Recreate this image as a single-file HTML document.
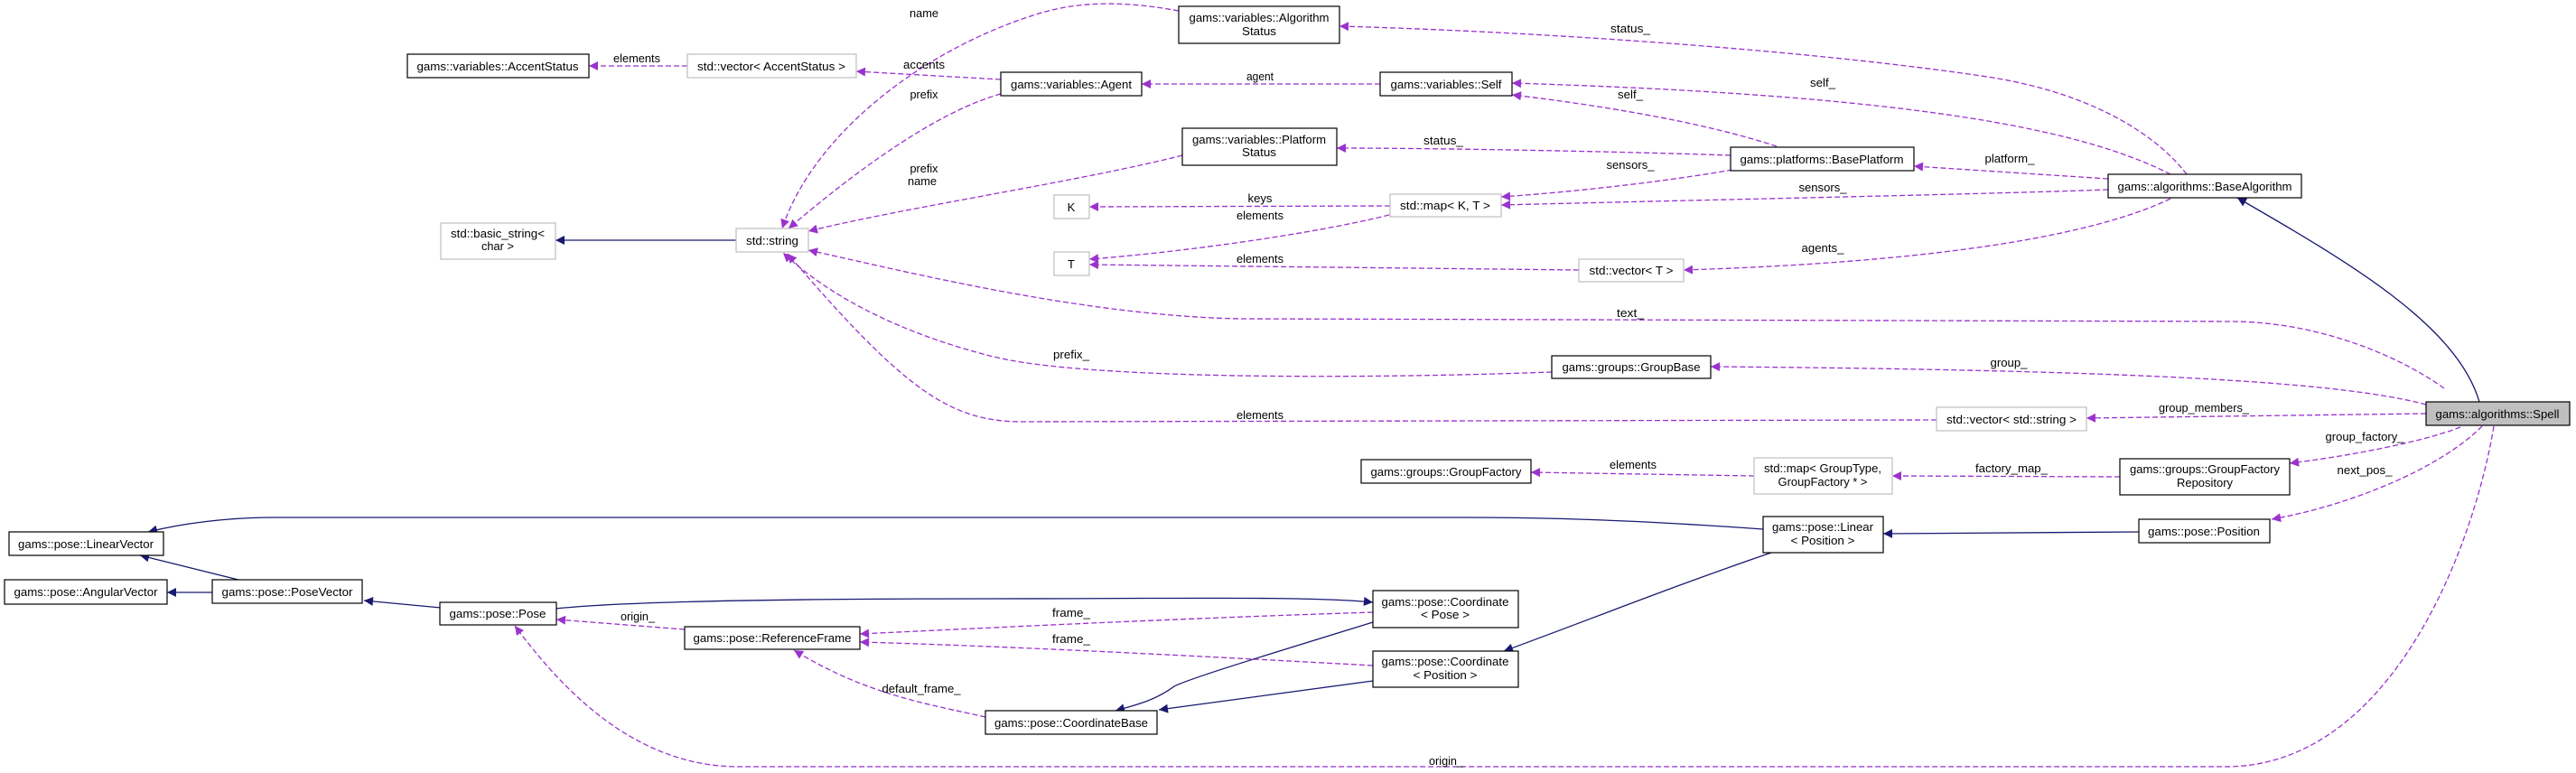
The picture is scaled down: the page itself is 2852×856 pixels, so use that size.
<!DOCTYPE html>
<html><head><meta charset="utf-8"><style>
html,body{margin:0;padding:0;background:#fff;}
svg{display:block;}
text{font-family:"Liberation Sans",Arial,sans-serif;font-size:13px;fill:#000;}
.n{fill:#fff;stroke:#000;stroke-width:1.2;}
.g{fill:#fff;stroke:#bfbfbf;stroke-width:1.2;}
.p{fill:none;stroke:#9a32cd;stroke-width:1.3;stroke-dasharray:6,3;marker-end:url(#ap);}
.b{fill:none;stroke:#191970;stroke-width:1.3;marker-end:url(#ab);}
</style></head><body>
<svg width="2852" height="856" viewBox="0 0 2852 856" xmlns="http://www.w3.org/2000/svg">
<defs>
<marker id="ap" viewBox="0 0 10 10" refX="10" refY="5" markerUnits="userSpaceOnUse" markerWidth="12" markerHeight="10" orient="auto"><path d="M0,0 L10,5 L0,10 z" fill="#9a32cd"/></marker>
<marker id="ab" viewBox="0 0 10 10" refX="10" refY="5" markerUnits="userSpaceOnUse" markerWidth="12" markerHeight="10" orient="auto"><path d="M0,0 L10,5 L0,10 z" fill="#191970"/></marker>
</defs>

<!-- edges -->
<path class="p" d="M761,73 L652,73"/>
<path class="p" d="M1305,12 C1250,2 1200,0 1150,15 C1020,55 900,150 866,253"/>
<path class="p" d="M1108,88 L948,79"/>
<path class="p" d="M1108,104 C1050,120 970,170 873,253"/>
<path class="p" d="M1309,172 C1200,200 1000,230 895,256"/>
<path class="p" d="M2706,430 C2650,390 2560,356 2470,356 L1374,353 C1200,350 1000,300 895,277"/>
<path class="p" d="M1718,412 C1500,420 1200,420 1100,395 C1000,370 920,330 867,280"/>
<path class="p" d="M2144,465 L1132,467 C1050,467 1000,430 872,281"/>
<path class="p" d="M1528,93 L1264,93"/>
<path class="p" d="M2421,193 C2380,140 2300,100 2200,85 C2000,55 1700,35 1483,29"/>
<path class="p" d="M2403,193 C2300,140 2100,105 1674,92"/>
<path class="p" d="M1967,162 C1900,140 1800,120 1674,105"/>
<path class="p" d="M1916,172 C1800,168 1600,164 1480,164"/>
<path class="p" d="M2334,198 L2119,184"/>
<path class="p" d="M1918,188 C1850,200 1750,212 1662,218"/>
<path class="p" d="M2334,210 C2200,215 1900,221 1662,227"/>
<path class="p" d="M1539,228 L1206,229"/>
<path class="p" d="M1538,238 C1450,260 1300,280 1206,287"/>
<path class="p" d="M1748,299 L1206,293"/>
<path class="p" d="M2403,220 C2320,260 2150,290 1864,299"/>
<path class="b" d="M2745,445 C2720,360 2600,290 2477,219"/>
<path class="p" d="M2686,448 C2600,425 2400,410 1894,406"/>
<path class="p" d="M2686,458 L2310,463"/>
<path class="p" d="M2724,473 C2680,490 2600,505 2535,513"/>
<path class="p" d="M2748,472 C2700,520 2600,560 2515,575"/>
<path class="p" d="M2761,472 C2740,600 2650,849 2464,849 L818,849 C700,849 620,760 570,693"/>
<path class="p" d="M2347,528 L2095,527"/>
<path class="p" d="M1942,527 L1695,523"/>
<path class="b" d="M2368,589 L2085,591"/>
<path class="b" d="M1952,586 C1800,575 1700,573 1617,573 L303,573 C250,573 200,580 164,589"/>
<path class="b" d="M1961,612 C1850,650 1750,690 1665,721"/>
<path class="b" d="M264,642 L155,615"/>
<path class="b" d="M235,656 L185,656"/>
<path class="b" d="M488,673 L403,665"/>
<path class="b" d="M615,674 C700,665 900,663 1100,663 C1300,663 1450,660 1520,667"/>
<path class="p" d="M1520,678 C1300,685 1100,695 952,702"/>
<path class="p" d="M1520,737 C1300,725 1100,715 952,711"/>
<path class="p" d="M758,697 L616,686"/>
<path class="p" d="M1091,794 C1030,780 960,770 879,720"/>
<path class="b" d="M1520,689 C1420,720 1320,750 1300,760 C1280,775 1260,780 1235,787"/>
<path class="b" d="M1520,754 L1283,786"/>
<path class="b" d="M815,266 L615,266"/>

<!-- edge labels -->
<g text-anchor="middle">
<text x="705" y="69" textLength="52" lengthAdjust="spacingAndGlyphs">elements</text>
<text x="1023" y="19" textLength="32" lengthAdjust="spacingAndGlyphs">name</text>
<text x="1023" y="76" textLength="46" lengthAdjust="spacingAndGlyphs">accents</text>
<text x="1023" y="109" textLength="31" lengthAdjust="spacingAndGlyphs">prefix</text>
<text x="1023" y="191" textLength="31" lengthAdjust="spacingAndGlyphs">prefix</text>
<text x="1021" y="205" textLength="32" lengthAdjust="spacingAndGlyphs">name</text>
<text x="1395" y="89" textLength="30" lengthAdjust="spacingAndGlyphs">agent</text>
<text x="1805" y="36" textLength="44" lengthAdjust="spacingAndGlyphs">status_</text>
<text x="2018" y="96" textLength="28" lengthAdjust="spacingAndGlyphs">self_</text>
<text x="1805" y="109" textLength="28" lengthAdjust="spacingAndGlyphs">self_</text>
<text x="1598" y="160" textLength="44" lengthAdjust="spacingAndGlyphs">status_</text>
<text x="2225" y="180" textLength="55" lengthAdjust="spacingAndGlyphs">platform_</text>
<text x="1805" y="187" textLength="53" lengthAdjust="spacingAndGlyphs">sensors_</text>
<text x="2018" y="212" textLength="53" lengthAdjust="spacingAndGlyphs">sensors_</text>
<text x="1395" y="224" textLength="27" lengthAdjust="spacingAndGlyphs">keys</text>
<text x="1395" y="243" textLength="52" lengthAdjust="spacingAndGlyphs">elements</text>
<text x="1395" y="291" textLength="52" lengthAdjust="spacingAndGlyphs">elements</text>
<text x="2018" y="279" textLength="47" lengthAdjust="spacingAndGlyphs">agents_</text>
<text x="1805" y="351" textLength="30" lengthAdjust="spacingAndGlyphs">text_</text>
<text x="1186" y="397" textLength="40" lengthAdjust="spacingAndGlyphs">prefix_</text>
<text x="2224" y="406" textLength="41" lengthAdjust="spacingAndGlyphs">group_</text>
<text x="1395" y="464" textLength="52" lengthAdjust="spacingAndGlyphs">elements</text>
<text x="2440" y="456" textLength="100" lengthAdjust="spacingAndGlyphs">group_members_</text>
<text x="2618" y="488" textLength="87" lengthAdjust="spacingAndGlyphs">group_factory_</text>
<text x="2618" y="525" textLength="61" lengthAdjust="spacingAndGlyphs">next_pos_</text>
<text x="2227" y="523" textLength="80" lengthAdjust="spacingAndGlyphs">factory_map_</text>
<text x="1808" y="519" textLength="52" lengthAdjust="spacingAndGlyphs">elements</text>
<text x="1186" y="683" textLength="42" lengthAdjust="spacingAndGlyphs">frame_</text>
<text x="1186" y="712" textLength="42" lengthAdjust="spacingAndGlyphs">frame_</text>
<text x="706" y="687" textLength="38" lengthAdjust="spacingAndGlyphs">origin_</text>
<text x="1020" y="767" textLength="87" lengthAdjust="spacingAndGlyphs">default_frame_</text>
<text x="1601" y="847" textLength="38" lengthAdjust="spacingAndGlyphs">origin_</text>
</g>

<!-- nodes -->
<g text-anchor="middle">
<rect class="n" x="451" y="60" width="201" height="26"/><text x="551" y="78" textLength="179" lengthAdjust="spacingAndGlyphs">gams::variables::AccentStatus</text>
<rect class="g" x="761" y="60" width="187" height="26"/><text x="854" y="78" textLength="164" lengthAdjust="spacingAndGlyphs">std::vector&lt; AccentStatus &gt;</text>
<rect class="g" x="488" y="247" width="127" height="40"/><text x="551" y="263" textLength="104" lengthAdjust="spacingAndGlyphs">std::basic_string&lt;</text><text x="551" y="277" textLength="36" lengthAdjust="spacingAndGlyphs">char &gt;</text>
<rect class="g" x="815" y="253" width="80" height="26"/><text x="855" y="271" textLength="58" lengthAdjust="spacingAndGlyphs">std::string</text>
<rect class="n" x="1305" y="7" width="178" height="41"/><text x="1394" y="24" textLength="155" lengthAdjust="spacingAndGlyphs">gams::variables::Algorithm</text><text x="1394" y="39" textLength="38" lengthAdjust="spacingAndGlyphs">Status</text>
<rect class="n" x="1108" y="80" width="156" height="26"/><text x="1186" y="98" textLength="134" lengthAdjust="spacingAndGlyphs">gams::variables::Agent</text>
<rect class="n" x="1528" y="80" width="146" height="26"/><text x="1601" y="98" textLength="123" lengthAdjust="spacingAndGlyphs">gams::variables::Self</text>
<rect class="n" x="1309" y="142" width="171" height="41"/><text x="1394" y="159" textLength="148" lengthAdjust="spacingAndGlyphs">gams::variables::Platform</text><text x="1394" y="173" textLength="38" lengthAdjust="spacingAndGlyphs">Status</text>
<rect class="g" x="1167" y="216" width="39" height="26"/><text x="1186" y="234">K</text>
<rect class="g" x="1539" y="215" width="123" height="25"/><text x="1600" y="232" textLength="100" lengthAdjust="spacingAndGlyphs">std::map&lt; K, T &gt;</text>
<rect class="g" x="1167" y="279" width="39" height="26"/><text x="1186" y="297">T</text>
<rect class="g" x="1748" y="287" width="116" height="25"/><text x="1806" y="304" textLength="93" lengthAdjust="spacingAndGlyphs">std::vector&lt; T &gt;</text>
<rect class="n" x="1718" y="394" width="176" height="25"/><text x="1806" y="411" textLength="153" lengthAdjust="spacingAndGlyphs">gams::groups::GroupBase</text>
<rect class="n" x="1916" y="163" width="203" height="26"/><text x="2017" y="181" textLength="181" lengthAdjust="spacingAndGlyphs">gams::platforms::BasePlatform</text>
<rect class="n" x="2334" y="193" width="214" height="26"/><text x="2441" y="211" textLength="193" lengthAdjust="spacingAndGlyphs">gams::algorithms::BaseAlgorithm</text>
<rect class="n" x="10" y="589" width="171" height="26"/><text x="95" y="607" textLength="150" lengthAdjust="spacingAndGlyphs">gams::pose::LinearVector</text>
<rect class="n" x="5" y="642" width="180" height="27"/><text x="95" y="660" textLength="159" lengthAdjust="spacingAndGlyphs">gams::pose::AngularVector</text>
<rect class="n" x="235" y="642" width="166" height="26"/><text x="318" y="660" textLength="145" lengthAdjust="spacingAndGlyphs">gams::pose::PoseVector</text>
<rect class="n" x="487" y="667" width="129" height="25"/><text x="551" y="684" textLength="107" lengthAdjust="spacingAndGlyphs">gams::pose::Pose</text>
<rect class="n" x="758" y="694" width="194" height="25"/><text x="855" y="711" textLength="175" lengthAdjust="spacingAndGlyphs">gams::pose::ReferenceFrame</text>
<rect class="n" x="1507" y="509" width="188" height="26"/><text x="1601" y="527" textLength="167" lengthAdjust="spacingAndGlyphs">gams::groups::GroupFactory</text>
<rect class="n" x="1520" y="654" width="161" height="41"/><text x="1600" y="671" textLength="141" lengthAdjust="spacingAndGlyphs">gams::pose::Coordinate</text><text x="1600" y="685" textLength="54" lengthAdjust="spacingAndGlyphs">&lt; Pose &gt;</text>
<rect class="n" x="1520" y="721" width="161" height="40"/><text x="1600" y="737" textLength="141" lengthAdjust="spacingAndGlyphs">gams::pose::Coordinate</text><text x="1600" y="752" textLength="71" lengthAdjust="spacingAndGlyphs">&lt; Position &gt;</text>
<rect class="n" x="1091" y="787" width="190" height="26"/><text x="1186" y="805" textLength="170" lengthAdjust="spacingAndGlyphs">gams::pose::CoordinateBase</text>
<rect class="g" x="2144" y="451" width="166" height="26"/><text x="2227" y="469" textLength="144" lengthAdjust="spacingAndGlyphs">std::vector&lt; std::string &gt;</text>
<rect x="2686" y="445" width="159" height="26" fill="#bfbfbf" stroke="#000" stroke-width="1.2"/><text x="2765" y="463" textLength="137" lengthAdjust="spacingAndGlyphs">gams::algorithms::Spell</text>
<rect class="g" x="1942" y="507" width="153" height="40"/><text x="2018" y="523" textLength="130" lengthAdjust="spacingAndGlyphs">std::map&lt; GroupType,</text><text x="2018" y="538" textLength="99" lengthAdjust="spacingAndGlyphs">GroupFactory * &gt;</text>
<rect class="n" x="2347" y="508" width="188" height="40"/><text x="2441" y="524" textLength="166" lengthAdjust="spacingAndGlyphs">gams::groups::GroupFactory</text><text x="2441" y="539" textLength="62" lengthAdjust="spacingAndGlyphs">Repository</text>
<rect class="n" x="1952" y="572" width="133" height="40"/><text x="2018" y="588" textLength="112" lengthAdjust="spacingAndGlyphs">gams::pose::Linear</text><text x="2018" y="603" textLength="71" lengthAdjust="spacingAndGlyphs">&lt; Position &gt;</text>
<rect class="n" x="2368" y="575" width="145" height="26"/><text x="2440" y="593" textLength="124" lengthAdjust="spacingAndGlyphs">gams::pose::Position</text>
</g>
</svg>
</body></html>
